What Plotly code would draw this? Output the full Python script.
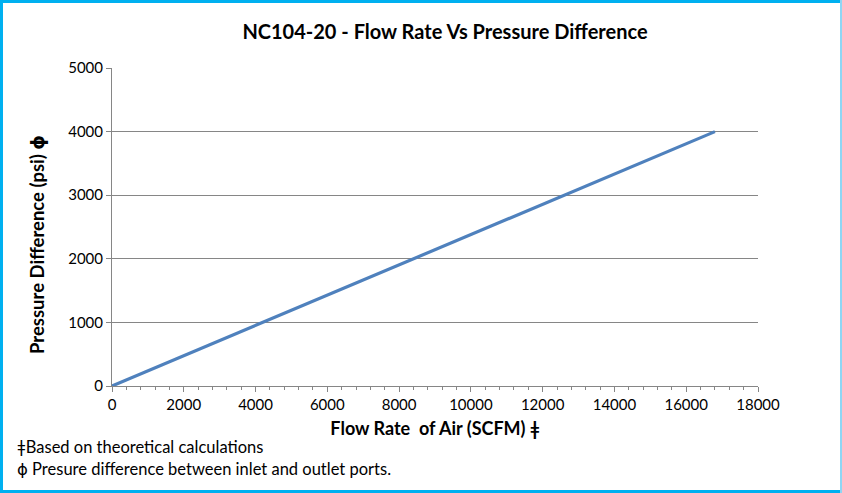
import plotly.graph_objects as go

flow_rate = [0, 16800]
pressure = [0, 4000]

W, H = 842, 493
L, R, T, B = 112, 84, 68, 107
pw, ph = W - L - R, H - T - B

def px(x):
    return (x - L) / pw

def py(y):
    return (H - B - y) / ph

fig = go.Figure()
fig.add_trace(go.Scatter(x=flow_rate, y=pressure, mode="lines",
                         line=dict(color="#4F81BD", width=3.2), showlegend=False))

font = "Lato, 'Open Sans', sans-serif"
grey = "#868686"
phi = '<span style="font-family:\'DejaVu Sans\'">ɸ</span>'
fig.update_layout(
    width=W, height=H,
    margin=dict(l=L, r=R, t=T, b=B, autoexpand=False),
    paper_bgcolor="white", plot_bgcolor="white",
    font=dict(family=font, size=15, color="#000000"),
    title=dict(text="<b>NC104-20 - Flow Rate Vs Pressure Difference</b>",
               x=445 / W, xanchor="center", y=1 - 32 / H, yanchor="middle",
               font=dict(size=20, family=font)),
    xaxis=dict(range=[0, 18000], dtick=2000, tick0=0, tickformat="d", showgrid=False,
               showline=True, linecolor=grey, linewidth=1,
               ticks="outside", ticklen=5, tickcolor=grey,
               minor=dict(dtick=400, ticks="outside", ticklen=3, tickcolor=grey),
               zeroline=False, tickfont=dict(size=15),
               title=dict(text="<b>Flow Rate  of Air (SCFM) ǂ</b>", font=dict(size=18), standoff=10)),
    yaxis=dict(range=[0, 5000], dtick=1000, tickformat="d", showgrid=True, gridcolor=grey, gridwidth=1,
               showline=True, linecolor=grey, linewidth=1,
               ticks="outside", ticklen=5, tickcolor=grey,
               zeroline=False, tickfont=dict(size=15)),
)

fig.add_annotation(text="<b>Pressure Difference (psi) " + phi + "</b>", xref="paper", yref="paper",
                   x=px(37), y=py(245), xanchor="center", yanchor="middle", textangle=-90,
                   showarrow=False, font=dict(size=18.5))
fig.add_annotation(text="ǂBased on theoretical calculations", xref="paper", yref="paper",
                   x=px(15), y=py(447), xanchor="left", yanchor="middle", showarrow=False,
                   font=dict(size=16.5))
fig.add_annotation(text=phi + " Presure difference between inlet and outlet ports.", xref="paper", yref="paper",
                   x=px(15), y=py(469), xanchor="left", yanchor="middle", showarrow=False,
                   font=dict(size=16.5))

blue = "#00B0F0"
light = "#8ED6F4"
fig.add_shape(type="line", xref="paper", yref="paper", x0=px(1.5), x1=px(1.5), y0=py(0), y1=py(H),
              line=dict(color=blue, width=3), layer="above")
fig.add_shape(type="line", xref="paper", yref="paper", x0=px(0), x1=px(W), y0=py(1.5), y1=py(1.5),
              line=dict(color=blue, width=3), layer="above")
fig.add_shape(type="line", xref="paper", yref="paper", x0=px(0), x1=px(W), y0=py(H - 1.5), y1=py(H - 1.5),
              line=dict(color=blue, width=3), layer="above")
fig.add_shape(type="line", xref="paper", yref="paper", x0=px(W - 1), x1=px(W - 1), y0=py(0), y1=py(H),
              line=dict(color=light, width=2), layer="above")

fig.write_html("out.html", config={"displayModeBar": False},
               post_script="document.body.style.margin='0';document.body.style.overflow='hidden';")
